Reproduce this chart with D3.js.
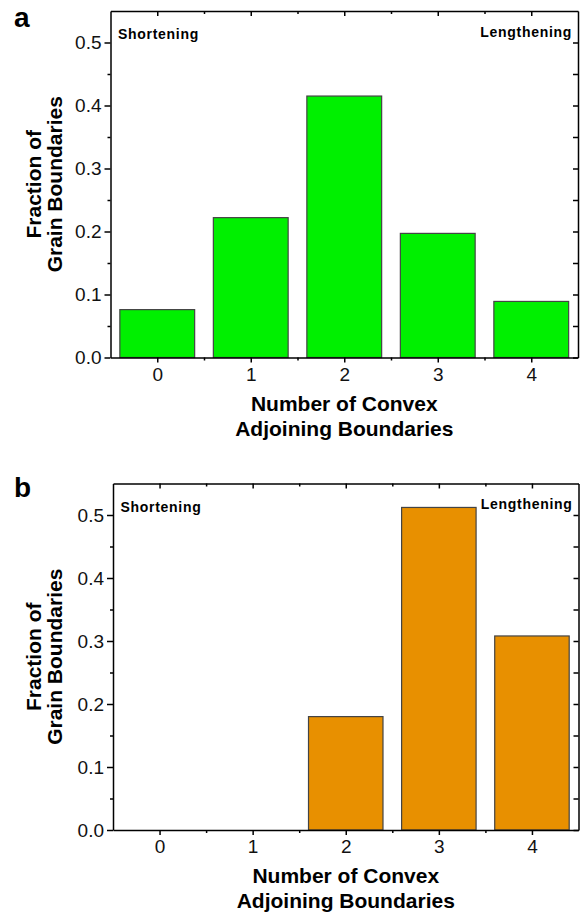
<!DOCTYPE html>
<html>
<head>
<meta charset="utf-8">
<script src="https://cdn.jsdelivr.net/npm/d3@7"></script>
<style>
	body { margin: 0; background: #fff; }
	svg { display: block; font-family: "Liberation Sans", Arial, sans-serif; }
	.axis path, .axis line { stroke: #000; stroke-width: 1.5; }
	.axis text { font-size: 19px; fill: #111; font-family: "Liberation Sans", Arial, sans-serif; }
	.note { font-size: 14px; font-weight: bold; letter-spacing: 0.7px; }
	.title { font-size: 21px; font-weight: bold; }
</style>
</head>
<body>
<div id="chart"></div>
<script>
// data
var categories = [0, 1, 2, 3, 4]
var fractionA = [0.076, 0.222, 0.415, 0.197, 0.089]
var fractionB = [0, 0, 0.180, 0.512, 0.308]
var yMajorTicks = [0, 0.1, 0.2, 0.3, 0.4, 0.5]
var yMinorTicks = [0.05, 0.15, 0.25, 0.35, 0.45]
var xMinorTicks = [0.5, 1.5, 2.5, 3.5]
var panelLabels = ['a', 'b']
var xTitle = ['Number of Convex', 'Adjoining Boundaries']
var yTitle = ['Fraction of', 'Grain Boundaries']
var notes = ['Shortening', 'Lengthening']

var W = 583, H = 916

var svg = d3.select('#chart').append('svg')
	.attr('width', W)
	.attr('height', H)

var panels = [
	{ values: fractionA, color: '#00f000', label: panelLabels[0], left: 110.5, right: 578, top: 11, bottom: 357.5, labelY: 27 },
	{ values: fractionB, color: '#e89000', label: panelLabels[1], left: 113, right: 578.5, top: 483.5, bottom: 830, labelY: 497 }
]

panels.forEach(function(p) {
	var x = d3.scaleLinear().domain([-0.5, 4.5]).range([p.left, p.right])
	var y = d3.scaleLinear().domain([0, 0.55]).range([p.bottom, p.top])
	var g = svg.append('g')
	var barW = (x(1) - x(0)) * 0.8

	// bars
	g.selectAll('rect.bar')
		.data(categories.map(function(c, i) { return { c: c, v: p.values[i] } }).filter(function(d) { return d.v > 0 }))
		.enter().append('rect')
		.attr('class', 'bar')
		.attr('x', function(d) { return x(d.c) - barW / 2 })
		.attr('y', function(d) { return y(d.v) })
		.attr('width', barW)
		.attr('height', function(d) { return y(0) - y(d.v) })
		.attr('fill', p.color)
		.attr('stroke', '#444')
		.attr('stroke-width', 1.2)

	// left axis
	g.append('g').attr('class', 'axis')
		.attr('transform', 'translate(' + p.left + ',0)')
		.call(d3.axisLeft(y).tickValues(yMajorTicks).tickSize(6).tickSizeOuter(0).tickPadding(3).tickFormat(d3.format('.1f')))
	g.append('g').attr('class', 'axis')
		.attr('transform', 'translate(' + p.left + ',0)')
		.call(d3.axisLeft(y).tickValues(yMinorTicks).tickSize(3).tickSizeOuter(0).tickFormat(''))
		.select('.domain').remove()

	// right axis, ticks inward
	g.append('g').attr('class', 'axis')
		.attr('transform', 'translate(' + p.right + ',0)')
		.call(d3.axisRight(y).tickValues(yMajorTicks.concat(yMinorTicks)).tickSize(-5).tickSizeOuter(0).tickFormat(''))

	// bottom axis
	g.append('g').attr('class', 'axis')
		.attr('transform', 'translate(0,' + p.bottom + ')')
		.call(d3.axisBottom(x).tickValues(categories).tickSize(5).tickSizeOuter(0).tickPadding(5).tickFormat(d3.format('d')))
	g.append('g').attr('class', 'axis')
		.attr('transform', 'translate(0,' + p.bottom + ')')
		.call(d3.axisBottom(x).tickValues(xMinorTicks).tickSize(3).tickSizeOuter(0).tickFormat(''))
		.select('.domain').remove()

	// top axis, ticks inward
	g.append('g').attr('class', 'axis')
		.attr('transform', 'translate(0,' + p.top + ')')
		.call(d3.axisTop(x).tickValues(categories).tickSize(-5).tickSizeOuter(0).tickFormat(''))
	g.append('g').attr('class', 'axis')
		.attr('transform', 'translate(0,' + p.top + ')')
		.call(d3.axisTop(x).tickValues(xMinorTicks).tickSize(-3).tickSizeOuter(0).tickFormat(''))
		.select('.domain').remove()

	// annotations
	g.append('text').attr('class', 'note')
		.attr('x', p.left + 7.5)
		.attr('y', p.top + 28)
		.text(notes[0])
	g.append('text').attr('class', 'note')
		.attr('x', p.right - 6)
		.attr('y', p.top + 25.5)
		.attr('text-anchor', 'end')
		.text(notes[1])

	// axis titles
	var cx = (p.left + p.right) / 2
	xTitle.forEach(function(t, i) {
		g.append('text').attr('class', 'title')
			.attr('x', cx)
			.attr('y', p.bottom + 53 + i * 25)
			.attr('text-anchor', 'middle')
			.text(t)
	})
	var cy = (p.top + p.bottom) / 2
	yTitle.forEach(function(t, i) {
		g.append('text').attr('class', 'title')
			.attr('transform', 'translate(' + (41 + i * 21) + ',' + cy + ') rotate(-90)')
			.attr('text-anchor', 'middle')
			.text(t)
	})

	// panel letter
	g.append('text')
		.attr('x', 14)
		.attr('y', p.labelY)
		.attr('font-size', 28).attr('font-weight', 'bold')
		.text(p.label)
})
</script>
</body>
</html>
